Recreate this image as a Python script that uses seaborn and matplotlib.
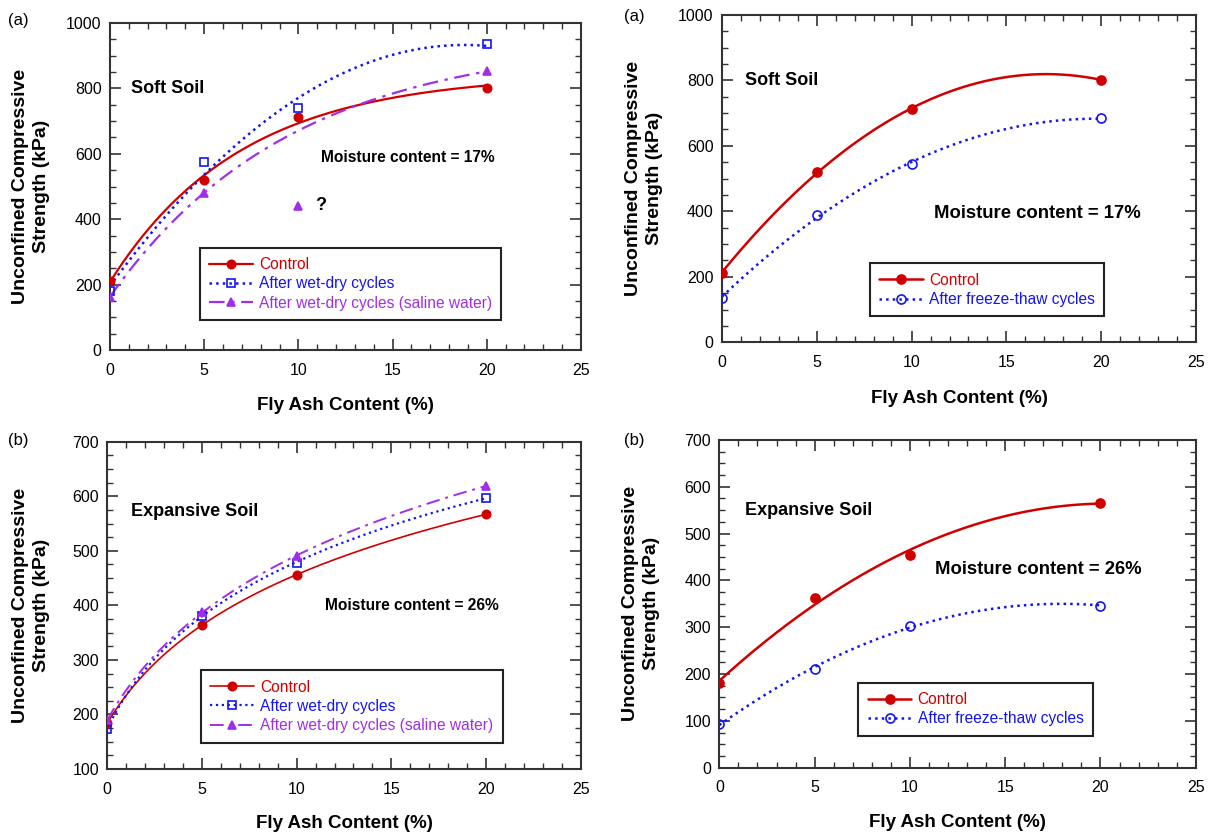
import numpy as np
import pandas as pd
import matplotlib
matplotlib.use("Agg")
import matplotlib.pyplot as plt
from matplotlib.lines import Line2D
from matplotlib.ticker import MultipleLocator
import seaborn as sns

# ---- data ---------------------------------------------------------------
fly_ash = [0, 5, 10, 20]

# Soft soil, wet-dry series
soft_control = [211, 520, 712, 802]
soft_wetdry = [181, 576, 741, 935]
soft_saline = [163, 481, 441, 852]
# Soft soil, freeze-thaw series
soft_control_ft = [213, 519, 713, 802]
soft_freezethaw = [136, 389, 544, 684]
# Expansive soil, wet-dry series
exp_control = [184, 364, 456, 567]
exp_wetdry = [174, 381, 478, 597]
exp_saline = [190, 387, 491, 619]
# Expansive soil, freeze-thaw series
exp_control_ft = [180, 363, 454, 566]
exp_freezethaw = [93, 210, 303, 346]

RED = "#D00000"
BLUE = "#1414F0"
PURPLE = "#A02EE6"

sns.set_theme(style="ticks")
plt.rcParams["font.family"] = ["Liberation Sans", "DejaVu Sans"]
plt.rcParams["text.color"] = "black"
plt.rcParams["axes.labelcolor"] = "black"

fig = plt.figure(figsize=(12.11, 8.34), dpi=100)
ax_tl = fig.add_axes([0.0908, 0.5803, 0.3889, 0.3921])
ax_tr = fig.add_axes([0.5962, 0.5896, 0.3914, 0.3925])
ax_bl = fig.add_axes([0.0886, 0.0779, 0.3909, 0.3925])
ax_br = fig.add_axes([0.5940, 0.0795, 0.3934, 0.3930])

XS = np.linspace(0, 20, 300)


def fit_two_param(x, y, basis, grid):
    """Least-squares y = a + b*basis(x, p), scanning the shape parameter p."""
    best = None
    for p in grid:
        g = basis(x, p)
        A = np.column_stack([np.ones_like(g), g])
        coef, *_ = np.linalg.lstsq(A, y, rcond=None)
        err = np.sum((A @ coef - y) ** 2)
        if best is None or err < best[0]:
            best = (err, p, coef)
    _, p, (a, b) = best
    return a + b * basis(XS, p)


def trend(y, kind, keep=None):
    x = np.asarray(fly_ash, float)
    y = np.asarray(y, float)
    if keep is not None:
        x, y = x[keep], y[keep]
    if kind == "quad":
        ys = np.polyval(np.polyfit(x, y, 2), XS)
    elif kind == "exp":
        ys = fit_two_param(x, y, lambda v, t: 1 - np.exp(-v / t),
                           np.linspace(1, 40, 800))
    else:  # logarithmic
        ys = fit_two_param(x, y, lambda v, c: np.log1p(v / c),
                           np.linspace(0.3, 30, 800))
    return pd.DataFrame({"x": XS, "y": ys})


def draw_series(ax, y, color, ls, lw, marker, filled, ms, kind, keep=None):
    fit = trend(y, kind, keep)
    sns.lineplot(data=fit, x="x", y="y", ax=ax, color=color, linestyle=ls,
                 linewidth=lw, estimator=None, sort=False)
    ax.plot(fly_ash, y, linestyle="none", marker=marker, markersize=ms,
            markeredgecolor=color, markeredgewidth=1.2,
            markerfacecolor=color if filled else "none", zorder=5)


def handle(color, ls, lw, marker, filled, ms):
    return Line2D([], [], color=color, linestyle=ls, linewidth=lw,
                  marker=marker, markersize=ms, markeredgecolor=color,
                  markeredgewidth=1.2,
                  markerfacecolor=color if filled else "none")


def style_axes(ax, ymin, ymax, ymaj, ymin_step, xlab_y, ylab_x):
    ax.set_xlim(0, 25)
    ax.set_ylim(ymin, ymax)
    ax.xaxis.set_major_locator(MultipleLocator(5))
    ax.xaxis.set_minor_locator(MultipleLocator(1))
    ax.yaxis.set_major_locator(MultipleLocator(ymaj))
    ax.yaxis.set_minor_locator(MultipleLocator(ymin_step))
    ax.tick_params(which="both", direction="in", top=True, right=True,
                   bottom=True, left=True, colors="#333333",
                   labelcolor="black", labelsize=11.5)
    ax.tick_params(which="major", length=8, width=1.2)
    ax.tick_params(which="minor", length=4, width=1.0)
    ax.tick_params(axis="x", pad=9)
    ax.tick_params(axis="y", pad=6)
    for s in ax.spines.values():
        s.set_linewidth(1.5)
        s.set_color("#333333")
    ax.set_xlabel("Fly Ash Content (%)", fontsize=13.5, fontweight="bold")
    ax.set_ylabel("Unconfined Compressive\nStrength (kPa)", fontsize=14,
                  fontweight="bold", linespacing=1.3)
    ax.xaxis.set_label_coords(0.5, xlab_y)
    ax.yaxis.set_label_coords(ylab_x, 0.5)


def legend(ax, handles, labels, colors, anchor):
    leg = ax.legend(handles, labels, loc="upper left", bbox_to_anchor=anchor,
                    borderaxespad=0, fontsize=11.2, frameon=True, fancybox=False,
                    edgecolor="#222222", framealpha=1, handlelength=2.8,
                    handletextpad=0.4, labelspacing=0.28, borderpad=0.6)
    leg.get_frame().set_linewidth(1.5)
    for t, c in zip(leg.get_texts(), colors):
        t.set_color(c)


dashdot = (0, (7, 3, 1.5, 3))

# ---- (a) soft soil, wet-dry ------------------------------------------------
draw_series(ax_tl, soft_control, RED, "-", 1.6, "o", True, 6, "exp")
draw_series(ax_tl, soft_wetdry, BLUE, ":", 1.8, "s", False, 6, "quad")
draw_series(ax_tl, soft_saline, PURPLE, dashdot, 1.6, "^", True, 6, "exp",
            keep=[0, 1, 3])
style_axes(ax_tl, 0, 1000, 200, 50, -0.145, -0.127)
ax_tl.text(1.1, 800, "Soft Soil", fontsize=13, fontweight="bold", va="center")
ax_tl.text(11.2, 588, "Moisture content = 17%", fontsize=11.2,
           fontweight="bold", va="center")
ax_tl.text(10.9, 441, "?", fontsize=13, fontweight="bold", va="center")
legend(ax_tl,
       [handle(RED, "-", 1.6, "o", True, 6),
        handle(BLUE, ":", 1.8, "s", False, 6),
        handle(PURPLE, dashdot, 1.6, "^", True, 6)],
       ["Control", "After wet-dry cycles", "After wet-dry cycles (saline water)"],
       [RED, BLUE, PURPLE], (0.191, 0.313))

# ---- (a) soft soil, freeze-thaw --------------------------------------------
draw_series(ax_tr, soft_control_ft, RED, "-", 1.8, "o", True, 6.5, "quad")
draw_series(ax_tr, soft_freezethaw, BLUE, ":", 1.8, "o", False, 6.5, "quad")
style_axes(ax_tr, 0, 1000, 200, 50, -0.145, -0.124)
ax_tr.text(1.21, 799, "Soft Soil", fontsize=13, fontweight="bold", va="center")
ax_tr.text(11.2, 394, "Moisture content = 17%", fontsize=13.3,
           fontweight="bold", va="center")
legend(ax_tr,
       [handle(RED, "-", 1.8, "o", True, 6.5),
        handle(BLUE, ":", 1.8, "o", False, 6.5)],
       ["Control", "After freeze-thaw cycles"],
       [RED, BLUE], (0.312, 0.241))

# ---- (b) expansive soil, wet-dry -------------------------------------------
draw_series(ax_bl, exp_control, RED, "-", 1.2, "o", True, 6, "log")
draw_series(ax_bl, exp_wetdry, BLUE, ":", 1.6, "s", False, 6, "log")
draw_series(ax_bl, exp_saline, PURPLE, dashdot, 1.4, "^", True, 6, "log")
style_axes(ax_bl, 100, 700, 100, 25, -0.141, -0.121)
ax_bl.text(1.24, 572, "Expansive Soil", fontsize=13, fontweight="bold",
           va="center")
ax_bl.text(11.5, 399, "Moisture content = 26%", fontsize=11.2,
           fontweight="bold", va="center")
legend(ax_bl,
       [handle(RED, "-", 1.2, "o", True, 6),
        handle(BLUE, ":", 1.6, "s", False, 6),
        handle(PURPLE, dashdot, 1.4, "^", True, 6)],
       ["Control", "After wet-dry cycles", "After wet-dry cycles (saline water)"],
       [RED, BLUE, PURPLE], (0.198, 0.302))

# ---- (b) expansive soil, freeze-thaw ---------------------------------------
draw_series(ax_br, exp_control_ft, RED, "-", 1.8, "o", True, 6.5, "quad")
draw_series(ax_br, exp_freezethaw, BLUE, ":", 1.8, "o", False, 6.5, "quad")
style_axes(ax_br, 0, 700, 100, 25, -0.141, -0.124)
ax_br.text(1.35, 549, "Expansive Soil", fontsize=13, fontweight="bold",
           va="center")
ax_br.text(11.3, 424, "Moisture content = 26%", fontsize=13.3,
           fontweight="bold", va="center")
legend(ax_br,
       [handle(RED, "-", 1.8, "o", True, 6.5),
        handle(BLUE, ":", 1.8, "o", False, 6.5)],
       ["Control", "After freeze-thaw cycles"],
       [RED, BLUE], (0.292, 0.259))

# panel letters
fig.text(8 / 1211, 1 - 20 / 834, "(a)", fontsize=12, va="center", ha="left")
fig.text(624 / 1211, 1 - 16 / 834, "(a)", fontsize=12, va="center", ha="left")
fig.text(8 / 1211, 1 - 440 / 834, "(b)", fontsize=12, va="center", ha="left")
fig.text(624 / 1211, 1 - 440 / 834, "(b)", fontsize=12, va="center", ha="left")

fig.savefig("out.png", dpi=100)
